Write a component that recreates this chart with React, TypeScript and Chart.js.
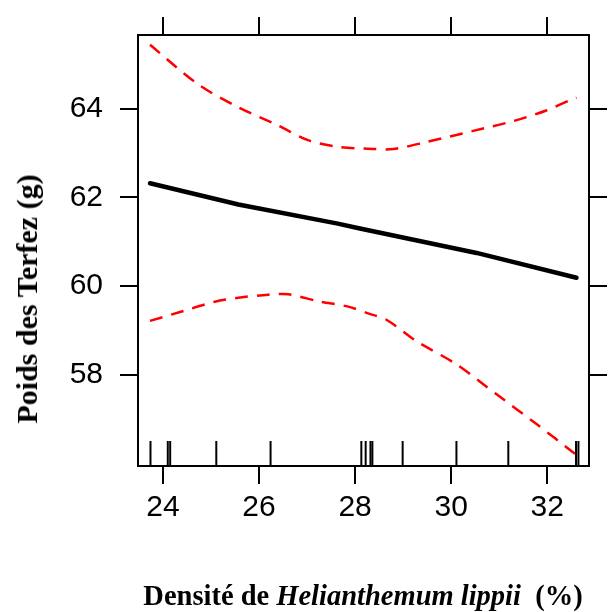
import React, { useEffect, useRef } from 'react';
import { Chart, registerables } from 'chart.js';

Chart.register(...registerables);

// ---- data ----
const xTicks = [24, 26, 28, 30, 32];
const yTicks = [58, 60, 62, 64];
const xRange = [23.48, 32.87];
const yRange = [55.95, 65.66];

const fitX = [23.73, 25.57, 27.64, 28.1, 30.53, 32.61];
const fitY = [62.32, 61.84, 61.41, 61.3, 60.75, 60.19];

const upperX = [23.73, 24.73, 25.57, 26.4, 27.02, 27.64, 28.26, 28.79, 29.49, 30.46, 31.29, 31.98, 32.47, 32.61];
const upperY = [65.44, 64.55, 64.03, 63.62, 63.29, 63.14, 63.1, 63.09, 63.25, 63.5, 63.72, 63.96, 64.19, 64.25];

const lowerX = [23.73, 24.39, 25.08, 25.57, 26.19, 26.61, 27.24, 27.86, 28.27, 28.66, 29.28, 30.11, 30.94, 31.77, 32.57, 32.61];
const lowerY = [59.22, 59.43, 59.65, 59.74, 59.81, 59.82, 59.66, 59.54, 59.39, 59.24, 58.76, 58.24, 57.57, 56.9, 56.23, 56.18];

const rugX = [23.74, 24.1, 24.15, 25.11, 26.24, 28.13, 28.22, 28.32, 28.36, 28.99, 30.11, 31.19, 32.6, 32.65];

const yTitle = 'Poids des Terfez (g)';
const xTitleA = 'Densité de ';
const xTitleB = 'Helianthemum lippii';
const xTitleC = '\u00a0 (%)';

const zip = (xs: number[], ys: number[]) => xs.map((x, i) => ({ x, y: ys[i] }));

const rugPlugin = {
  id: 'rug',
  afterDatasetsDraw(chart: any) {
    const { ctx, chartArea, scales } = chart;
    ctx.save();
    ctx.strokeStyle = '#000';
    ctx.lineWidth = 2;
    rugX.forEach((v) => {
      const px = scales.x.getPixelForValue(v);
      ctx.beginPath();
      ctx.moveTo(px, chartArea.bottom);
      ctx.lineTo(px, chartArea.bottom - 25);
      ctx.stroke();
    });
    ctx.restore();
  },
};

const tickFont = { family: "'Liberation Sans', Arial, sans-serif", size: 30 };

function axis(pos: string, range: number[], ticks: number[], labels: boolean, size: number, pad: number) {
  const horizontal = pos === 'top' || pos === 'bottom';
  return {
    type: 'linear',
    position: pos,
    min: range[0],
    max: range[1],
    afterBuildTicks: (s: any) => {
      s.ticks = ticks.map((v) => ({ value: v }));
    },
    afterFit: (s: any) => {
      if (horizontal) s.height = size;
      else s.width = size;
    },
    grid: {
      display: true,
      drawOnChartArea: false,
      drawTicks: true,
      tickLength: 18,
      color: '#000',
      lineWidth: 2,
    },
    border: { display: true, color: '#000', width: 2 },
    ticks: {
      display: labels,
      color: '#000',
      font: tickFont,
      padding: pad,
      maxRotation: 0,
      autoSkip: false,
    },
  };
}

export default function App() {
  const ref = useRef<HTMLCanvasElement | null>(null);

  useEffect(() => {
    if (!ref.current) return;
    const chart = new Chart(ref.current, {
      type: 'line',
      data: {
        datasets: [
          {
            data: zip(upperX, upperY),
            borderColor: '#ff0000',
            borderWidth: 2.5,
            borderDash: [13, 9],
            pointRadius: 0,
            tension: 0.3,
            fill: false,
          },
          {
            data: zip(lowerX, lowerY),
            borderColor: '#ff0000',
            borderWidth: 2.5,
            borderDash: [13, 9],
            pointRadius: 0,
            tension: 0.3,
            fill: false,
          },
          {
            data: zip(fitX, fitY),
            borderColor: '#000',
            borderWidth: 4.5,
            pointRadius: 0,
            tension: 0,
            borderCapStyle: 'round',
            fill: false,
          },
        ],
      },
      options: {
        animation: false,
        responsive: false,
        devicePixelRatio: 1,
        layout: { padding: 0 },
        plugins: { legend: { display: false }, tooltip: { enabled: false } },
        scales: {
          x: axis('bottom', xRange, xTicks, true, 146, 6),
          x2: axis('top', xRange, xTicks, false, 30, 0),
          y: axis('left', yRange, yTicks, true, 138, 17),
          y2: axis('right', yRange, yTicks, false, 25, 0),
        } as any,
      },
      plugins: [rugPlugin],
    } as any);
    return () => chart.destroy();
  }, []);

  const serif = "'Liberation Serif', 'Times New Roman', serif";
  return (
    <div style={{ position: 'fixed', left: 0, top: 0, width: 614, height: 612, background: '#fff' }}>
      <canvas ref={ref} width={614} height={612} style={{ position: 'absolute', left: 0, top: 0 }} />
      <div
        style={{
          position: 'absolute',
          left: 27,
          top: 299,
          transform: 'translate(-50%, -50%) rotate(-90deg)',
          whiteSpace: 'nowrap',
          fontFamily: serif,
          fontWeight: 'bold',
          fontSize: 30,
          color: '#000',
        }}
      >
        {yTitle}
      </div>
      <div
        style={{
          position: 'absolute',
          left: 363,
          top: 596,
          transform: 'translate(-50%, -50%)',
          whiteSpace: 'nowrap',
          fontFamily: serif,
          fontWeight: 'bold',
          fontSize: 28.5,
          color: '#000',
        }}
      >
        {xTitleA}
        <span style={{ fontStyle: 'italic' }}>{xTitleB}</span>
        {xTitleC}
      </div>
    </div>
  );
}
